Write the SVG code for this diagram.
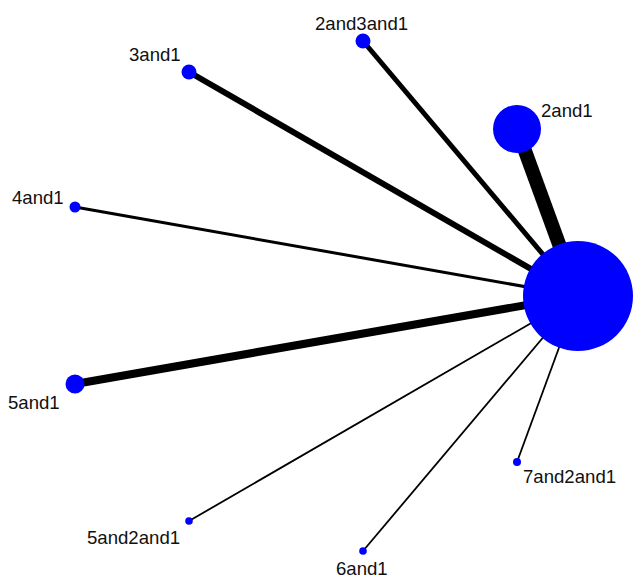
<svg xmlns="http://www.w3.org/2000/svg" width="637" height="578" viewBox="0 0 637 578">
<style>
.e{stroke:#000;stroke-linecap:butt;fill:none}
.n{fill:#0000ff}
.t{font-family:"Liberation Sans",Arial,sans-serif;font-size:18.6px;fill:#111}
</style>
<rect width="637" height="578" fill="#fff"/>
<g id="edges">
<line class="e" x1="517" y1="129" x2="578" y2="296" stroke-width="14"/>
<line class="e" x1="363" y1="41" x2="578" y2="296" stroke-width="5"/>
<line class="e" x1="189" y1="72" x2="578" y2="296" stroke-width="6"/>
<line class="e" x1="75" y1="207" x2="578" y2="296" stroke-width="3"/>
<line class="e" x1="75" y1="384" x2="578" y2="296" stroke-width="8"/>
<line class="e" x1="189" y1="521" x2="578" y2="296" stroke-width="1.8"/>
<line class="e" x1="363" y1="551" x2="578" y2="296" stroke-width="1.8"/>
<line class="e" x1="517" y1="462" x2="578" y2="296" stroke-width="1.8"/>
</g>
<g id="node-1"><circle class="n" cx="578" cy="296" r="55"/></g>
<g id="node-2and1"><circle class="n" cx="517" cy="129" r="24"/><text class="t" x="541" y="117">2and1</text></g>
<g id="node-2and3and1"><circle class="n" cx="363" cy="41" r="7.5"/><text class="t" x="315" y="30">2and3and1</text></g>
<g id="node-3and1"><circle class="n" cx="189" cy="72" r="7.5"/><text class="t" x="129" y="61">3and1</text></g>
<g id="node-4and1"><circle class="n" cx="75" cy="207" r="5.5"/><text class="t" x="12" y="204">4and1</text></g>
<g id="node-5and1"><circle class="n" cx="75" cy="384" r="9.5"/><text class="t" x="8" y="409">5and1</text></g>
<g id="node-5and2and1"><circle class="n" cx="189" cy="521" r="3.8"/><text class="t" x="87" y="544">5and2and1</text></g>
<g id="node-6and1"><circle class="n" cx="363" cy="551" r="3.8"/><text class="t" x="336" y="575">6and1</text></g>
<g id="node-7and2and1"><circle class="n" cx="517" cy="462" r="4"/><text class="t" x="523" y="483">7and2and1</text></g>
</svg>
